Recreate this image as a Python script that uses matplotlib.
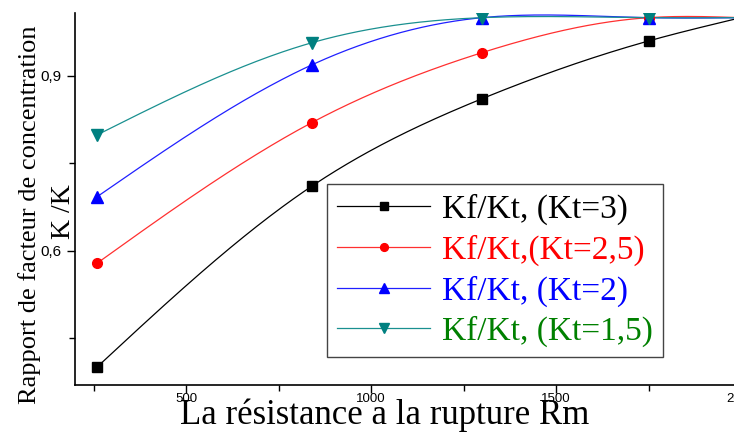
"""Kf/Kt ratio versus ultimate tensile strength Rm, for several Kt values."""
import matplotlib
matplotlib.use("Agg")
import matplotlib.pyplot as plt
import numpy as np
from matplotlib.ticker import MultipleLocator

rm = [260, 840, 1300, 1750, 2000]
kf_kt_3 = [0.401, 0.711, 0.861, 0.960, 1.000]
kf_kt_25 = [0.579, 0.820, 0.940, 1.000, 1.000]
kf_kt_2 = [0.693, 0.919, 1.000, 1.000, 1.000]
kf_kt_15 = [0.799, 0.957, 1.000, 1.000, 1.000]

labels = ["Kf/Kt, (Kt=3)", "Kf/Kt,(Kt=2,5)", "Kf/Kt, (Kt=2)", "Kf/Kt, (Kt=1,5)"]
line_colors = ["black", "#ff3030", "#2020ff", "#1a9090"]
marker_colors = ["black", "red", "blue", "#008080"]
text_colors = ["black", "red", "blue", "green"]
markers = ["s", "o", "^", "v"]
msizes = [6.5, 7, 8.5, 8.5]


def natural_spline(x, y, n=300):
    # natural cubic spline through the points, like Origin's smoothed line
    x = np.asarray(x, float)
    y = np.asarray(y, float)
    k = len(x)
    h = np.diff(x)
    A = np.zeros((k, k))
    b = np.zeros(k)
    A[0, 0] = A[-1, -1] = 1
    for i in range(1, k - 1):
        A[i, i - 1] = h[i - 1]
        A[i, i] = 2 * (h[i - 1] + h[i])
        A[i, i + 1] = h[i]
        b[i] = 6 * ((y[i + 1] - y[i]) / h[i] - (y[i] - y[i - 1]) / h[i - 1])
    m = np.linalg.solve(A, b)
    xs = np.linspace(x[0], x[-1], n)
    idx = np.clip(np.searchsorted(x, xs) - 1, 0, k - 2)
    t0 = xs - x[idx]
    t1 = x[idx + 1] - xs
    hh = h[idx]
    ys = (m[idx] * t1 ** 3 + m[idx + 1] * t0 ** 3) / (6 * hh) \
        + (y[idx] / hh - m[idx] * hh / 6) * t1 \
        + (y[idx + 1] / hh - m[idx + 1] * hh / 6) * t0
    return xs, ys


fig = plt.figure(figsize=(7.34, 4.34), dpi=100)
ax = fig.add_axes([75 / 734, 49 / 434, 703 / 734, 372 / 434])

series = [kf_kt_3, kf_kt_25, kf_kt_2, kf_kt_15]
handles = []
for vals, lc, mc, mk, ms in zip(series, line_colors, marker_colors, markers, msizes):
    xs, ys = natural_spline(rm, vals)
    ax.plot(xs, ys, color=lc, lw=0.9, zorder=2)
    ax.plot(rm, vals, ls="none", marker=mk, ms=ms, color=mc, zorder=3)
    h, = ax.plot([], [], color=lc, lw=0.9, marker=mk, ms=ms * 0.8,
                 markerfacecolor=mc, markeredgecolor=mc)
    handles.append(h)

ax.set_xlim(200, 2100)
ax.set_ylim(0.370, 1.008)
ax.xaxis.set_minor_locator(MultipleLocator(250))
ax.yaxis.set_minor_locator(MultipleLocator(0.15))
ax.set_yticks([0.6, 0.9])
ax.set_yticklabels(["0,6", "0,9"])
ax.set_xticks([500, 1000, 1500, 2000])
ax.set_xticklabels(["500", "1000", "1500", "2000"])
for lab in ax.get_xticklabels() + ax.get_yticklabels():
    lab.set_fontfamily("Liberation Sans")
ax.tick_params(which="major", direction="out", length=6, width=1)
ax.tick_params(which="minor", direction="out", length=4, width=1)
ax.tick_params(axis="x", pad=0, labelsize=9.5)
ax.tick_params(axis="y", labelsize=11, pad=4)
ax.spines["top"].set_visible(False)
ax.spines["right"].set_visible(False)
for s in ("left", "bottom"):
    ax.spines[s].set_linewidth(1.2)

serif = "Liberation Serif"
fig.text(30 / 734, 1 - 215 / 434, "Rapport de facteur de concentration",
         rotation=90, ha="center", va="center", family=serif, fontsize=19)
fig.text(64 / 734, 1 - 212 / 434, "K /K", rotation=90, ha="center",
         va="center", family=serif, fontsize=20)
fig.text(385 / 734, 1 - 415 / 434, "La résistance a la rupture Rm",
         ha="center", va="center", family=serif, fontsize=25)

leg = ax.legend(handles, labels, loc="upper left",
                bbox_to_anchor=(327 / 734, 1 - 184 / 434),
                bbox_transform=fig.transFigure, borderaxespad=0,
                prop={"family": serif, "size": 24}, handlelength=2.8,
                handletextpad=0.35, labelspacing=0.28, borderpad=0.3,
                fancybox=False, framealpha=1, edgecolor="#444444")
leg.get_frame().set_linewidth(1.0)
for t, c in zip(leg.get_texts(), text_colors):
    t.set_color(c)

fig.savefig("out.png", dpi=100)
